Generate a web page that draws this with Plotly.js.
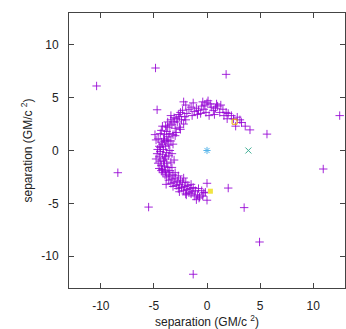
<!DOCTYPE html>
<html><head><meta charset="utf-8">
<script src="https://cdn.plot.ly/plotly-3.0.1.min.js"></script>
<style>html,body{margin:0;padding:0;background:#fff;}#chart{width:346px;height:329px;}</style>
</head><body><div id="chart"></div>
<script>
// Scattered particle positions (GM/c^2)
const ptsX = [
 4.05,3.6,3.25,2.85,2.3,2.7,3.1,2.0,1.8,2.5,
 1.0,1.3,0.8,1.5,1.2,0.6,0.3,0.1,0.0,-0.2,0.4,-0.5,-0.3,-0.8,-0.6,-1.0,-1.3,-1.2,-1.5,-1.7,-1.9,-2.2,-2.0,-2.3,-2.5,0.2,0.7,-0.1,1.6,-1.4,-2.1,-0.9,0.9,-0.4,1.9,
 -2.7,-2.9,-3.1,-3.4,-3.3,-2.8,-2.6,-3.0,-3.5,-3.7,-3.9,-4.2,-4.3,-3.8,-3.5,-3.2,-3.6,-4.0,-4.4,-4.6,-4.1,-3.8,-3.4,-4.9,-4.8,-2.5,-2.9,-3.0,-3.1,-2.4,-2.2,-3.4,-2.6,-2.0,-3.7,
 -4.65,-4.5,-4.2,-3.9,-3.6,-4.4,-4.1,-3.8,-3.5,-4.3,-4.7,-4.5,-4.2,-3.9,-3.6,-4.8,-4.4,-4.1,-3.8,-3.4,-4.3,-4.0,-3.7,-4.5,-4.2,-4.3,-3.9,-3.6,-3.3,-4.0,-3.7,-4.4,-3.3,-4.6,-3.5,-4.15,-3.95,-3.2,-3.1,-4.0,
 -3.8,-3.5,-3.2,-3.0,-3.6,-3.3,-3.0,-2.7,-3.85,-3.4,-3.1,-2.8,-2.5,-2.2,-3.2,-2.9,-2.6,-2.3,-2.0,-2.7,-2.4,-2.1,-1.8,-1.5,-2.6,-2.2,-1.9,-1.6,-1.3,-2.0,-1.7,-1.4,-1.1,-0.8,-1.95,
 -0.9,-0.5,-0.3,-0.7,-1.0,-0.75,-0.4,-1.2,0.0,0.0,-0.15,-1.5,
 -10.4,-4.85,1.8,12.5,5.65,-8.4,10.95,-5.5,3.5,4.95,-1.3,2.0,-4.7
];
const ptsY = [
 1.95,2.3,2.65,3.15,3.3,2.3,2.9,3.5,3.6,3.0,
 4.2,4.3,4.0,3.9,3.6,3.8,4.4,4.7,4.5,4.3,4.1,4.2,3.9,3.8,3.5,4.0,4.5,3.7,4.1,3.9,3.5,4.6,4.3,3.8,3.6,3.3,3.4,3.6,3.3,3.3,3.2,3.4,4.4,4.6,3.0,
 3.4,3.0,3.1,2.9,2.5,2.7,2.2,2.1,2.4,2.2,2.3,2.3,1.9,1.8,1.6,1.5,1.3,1.5,1.6,1.1,1.1,1.0,0.9,1.5,1.0,2.0,1.7,1.4,2.7,2.9,2.5,3.3,3.2,2.9,2.7,
 0.1,0.4,0.6,0.4,0.5,-0.1,0.1,-0.2,0.0,0.8,-0.3,-0.6,-0.4,-0.6,-0.5,-0.8,-1.0,-1.0,-1.2,-1.1,-1.4,-1.5,-1.6,-1.7,-1.8,-1.9,-2.0,-2.1,-1.6,-0.8,0.9,0.3,-0.3,-1.2,-1.9,-2.1,-2.3,0.6,-0.9,0.9,
 -2.5,-2.4,-2.3,-2.1,-2.8,-2.7,-2.6,-2.4,-3.2,-3.1,-3.0,-2.9,-2.8,-2.6,-3.4,-3.3,-3.2,-3.0,-3.0,-3.6,-3.5,-3.4,-3.3,-3.2,-3.9,-3.8,-3.7,-3.6,-3.5,-4.1,-4.0,-3.9,-3.8,-3.6,-4.2,
 -4.2,-3.8,-4.0,-4.4,-4.65,-4.5,-4.3,-4.3,-3.1,-4.7,-3.95,-4.1,
 6.1,7.8,7.2,3.3,1.55,-2.1,-1.75,-5.35,-5.4,-8.65,-11.7,-3.55,3.85
];
// Special markers
const centreX = [0.0], centreY = [0.0];
const crossX = [3.9], crossY = [0.0];
const openSqX = [2.6], openSqY = [2.72];
const fillSqX = [0.32], fillSqY = [-3.85];
const tickVals = [-10,-5,0,5,10];
const tickText = ['-10','-5','0','5','10'];

const traces = [
 {x: ptsX, y: ptsY, type:'scatter', mode:'markers',
  marker:{symbol:'cross-thin-open', size:6, opacity:0.85, line:{width:1, color:'#9400d3'}, color:'#9400d3'}},
 {x: centreX, y: centreY, type:'scatter', mode:'markers',
  marker:{symbol:'asterisk-open', size:6, line:{width:1, color:'#56b4e9'}, color:'#56b4e9'}},
 {x: crossX, y: crossY, type:'scatter', mode:'markers',
  marker:{symbol:'x-thin-open', size:6, line:{width:1, color:'#3fae95'}, color:'#3fae95'}},
 {x: openSqX, y: openSqY, type:'scatter', mode:'markers',
  marker:{symbol:'square-open', size:5, line:{width:1, color:'#e69f00'}, color:'#e69f00'}},
 {x: fillSqX, y: fillSqY, type:'scatter', mode:'markers',
  marker:{symbol:'square', size:5, color:'#f0e442', line:{width:0}}}
];

const axisCommon = {
 range:[-13,13], tickvals:tickVals, ticktext:tickText, ticks:'inside', ticklen:5, tickwidth:1,
 tickcolor:'#444', showline:true, linecolor:'#444', linewidth:1, mirror:'allticks',
 showgrid:false, zeroline:false, ticklabelstandoff:7,
 tickfont:{family:'Liberation Sans, Arial, sans-serif', size:12, color:'#222'}
};
const layout = {
 width:346, height:329, showlegend:false,
 margin:{l:69, r:1, t:13, b:41},
 paper_bgcolor:'#fff', plot_bgcolor:'#fff',
 xaxis: Object.assign({}, axisCommon, {title:{text:'separation (GM/c <sup>2</sup>)', standoff:4,
   font:{family:'Liberation Sans, Arial, sans-serif', size:12, color:'#222'}}}),
 yaxis: Object.assign({}, axisCommon, {title:{text:'separation (GM/c <sup>2</sup>)', standoff:6,
   font:{family:'Liberation Sans, Arial, sans-serif', size:12, color:'#222'}}})
};
Plotly.newPlot('chart', traces, layout, {displayModeBar:false, staticPlot:true});
</script>
</body></html>
